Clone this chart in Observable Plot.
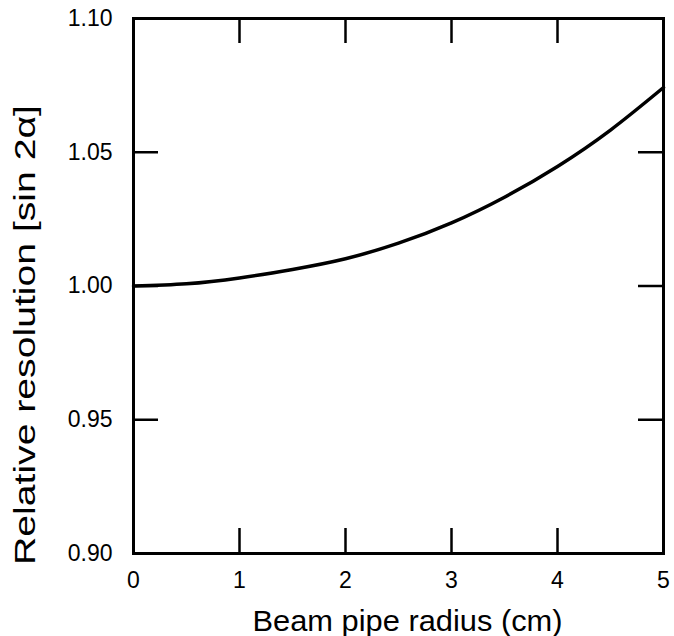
<!DOCTYPE html>
<html><head><meta charset="utf-8">
<script src="https://cdn.jsdelivr.net/npm/d3@7"></script>
<script src="https://cdn.jsdelivr.net/npm/@observablehq/plot@0.6"></script>
<style>body{margin:0;background:#fff} #chart{width:674px;height:636px}</style>
</head><body><div id="chart"></div>
<script>
const radius = [0, 0.5, 1, 1.5, 2, 2.5, 3, 3.5, 4, 4.5, 5];
const resolution = [1.000, 1.0008, 1.0030, 1.0062, 1.0102, 1.0160, 1.0236, 1.0332, 1.0447, 1.0583, 1.0742];
const xTickValues = [0, 1, 2, 3, 4, 5];
const xInnerTicks = [1, 2, 3, 4];
const yTickValues = [0.90, 0.95, 1.00, 1.05, 1.10];
const yInnerTicks = [0.95, 1.00, 1.05];
const xTitle = "Beam pipe radius (cm)";
const yTitle = "Relative resolution [sin 2α]";

const data = radius.map((r, i) => ({r, v: resolution[i]}));
const W = 674, H = 636, mL = 133, mR = 11, mT = 18, mB = 83;
const plotW = W - mL - mR, plotH = H - mT - mB;
const tick = 25;
const tickStyle = {stroke: "#000", strokeOpacity: 1, strokeWidth: 2.5};

const chart = Plot.plot({
  width: W, height: H,
  marginLeft: mL, marginRight: mR, marginTop: mT, marginBottom: mB,
  style: {fontFamily: "'Liberation Sans', Arial, sans-serif", background: "#fff", color: "#000"},
  x: {domain: [0, 5]},
  y: {domain: [0.9, 1.1]},
  marks: [
    Plot.gridX(xInnerTicks, {...tickStyle, insetTop: plotH - tick}),
    Plot.gridX(xInnerTicks, {...tickStyle, insetBottom: plotH - tick}),
    Plot.gridY(yInnerTicks, {...tickStyle, insetRight: plotW - tick}),
    Plot.gridY(yInnerTicks, {...tickStyle, insetLeft: plotW - tick}),
    Plot.frame({stroke: "#000", strokeWidth: 3}),
    Plot.axisX({ticks: xTickValues, tickSize: 0, tickPadding: 18, fontSize: 23, label: null, tickFormat: d3.format("d")}),
    Plot.axisY({ticks: yTickValues, tickSize: 0, tickPadding: 21, fontSize: 23, label: null, tickFormat: d3.format(".2f")}),
    Plot.line(data, {x: "r", y: "v", curve: "natural", stroke: "#000", strokeWidth: 3.5}),
    Plot.text([xTitle], {text: d => d, frameAnchor: "bottom", dx: 9, dy: 68, fontSize: 29, lineAnchor: "middle", fill: "#000"}),
    Plot.text([yTitle], {text: d => d, frameAnchor: "left", rotate: -90, textAnchor: "start", dx: -108, dy: 279, fontSize: 30, lineAnchor: "middle", fill: "#000"})
  ]
});
d3.select(chart).selectAll("text").each(function() {
  const t = this.textContent;
  if (t === yTitle) { this.setAttribute("textLength", 460); this.setAttribute("lengthAdjust", "spacingAndGlyphs"); }
  if (t === xTitle) { this.setAttribute("textLength", 310); this.setAttribute("lengthAdjust", "spacingAndGlyphs"); }
});
document.getElementById("chart").appendChild(chart);
</script>
</body></html>
